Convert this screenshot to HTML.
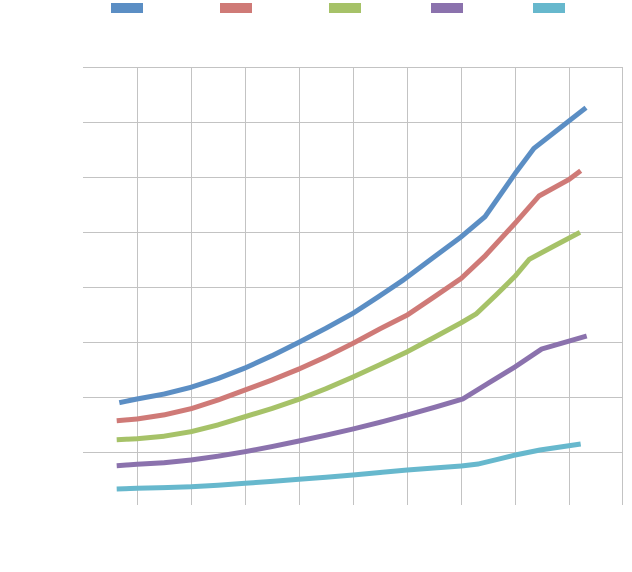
<!DOCTYPE html>
<html>
<head>
<meta charset="utf-8">
<style>
  html, body { margin:0; padding:0; background:#ffffff; }
  body { width:632px; height:572px; overflow:hidden; font-family:"Liberation Sans", sans-serif; }
  svg { display:block; }
</style>
</head>
<body>
<svg width="632" height="572" viewBox="0 0 632 572" xmlns="http://www.w3.org/2000/svg">
  <rect x="0" y="0" width="632" height="572" fill="#ffffff"/>
  <!-- legend -->
  <rect x="111" y="3" width="32" height="10" fill="#5b8ec4"/>
  <rect x="220" y="3" width="32" height="10" fill="#cf7a77"/>
  <rect x="329" y="3" width="32" height="10" fill="#a6c268"/>
  <rect x="431" y="3" width="32" height="10" fill="#8b72ad"/>
  <rect x="533" y="3" width="32" height="10" fill="#67b8cd"/>

  <!-- gridlines -->
  <g stroke="#c3c3c3" stroke-width="1" fill="none">
    <line x1="83" y1="67.5" x2="622" y2="67.5"/>
    <line x1="83" y1="122.5" x2="622" y2="122.5"/>
    <line x1="83" y1="177.5" x2="622" y2="177.5"/>
    <line x1="83" y1="232.5" x2="622" y2="232.5"/>
    <line x1="83" y1="287.5" x2="622" y2="287.5"/>
    <line x1="83" y1="342.5" x2="622" y2="342.5"/>
    <line x1="83" y1="397.5" x2="622" y2="397.5"/>
    <line x1="83" y1="452.5" x2="622" y2="452.5"/>

    <line x1="137.5" y1="67" x2="137.5" y2="505"/>
    <line x1="191.5" y1="67" x2="191.5" y2="505"/>
    <line x1="245.5" y1="67" x2="245.5" y2="505"/>
    <line x1="299.5" y1="67" x2="299.5" y2="505"/>
    <line x1="353.5" y1="67" x2="353.5" y2="505"/>
    <line x1="407.5" y1="67" x2="407.5" y2="505"/>
    <line x1="461.5" y1="67" x2="461.5" y2="505"/>
    <line x1="515.5" y1="67" x2="515.5" y2="505"/>
    <line x1="569.5" y1="67" x2="569.5" y2="505"/>
    <line x1="622.5" y1="67" x2="622.5" y2="505"/>
  </g>

  <!-- series -->
  <g fill="none" stroke-width="5" stroke-linejoin="round" stroke-linecap="butt">
    <polyline stroke="#67b8cd" points="116.7,489 137,488.3 164,487.6 191,486.7 218,485.2 245,483.3 272,481.4 299,479.3 326,477.2 353,475 380,472.5 407.3,470 434,468 461.3,466 478.3,464 497,459.5 515.3,455 540,450 580.7,444"/>
    <polyline stroke="#8b72ad" points="116.7,465.7 137,464.3 164,462.7 191,460 218,456.2 245,451.7 272,446.6 299,441 326,435.2 353,429 380,422.3 407.3,415 435,407.2 462.7,399 489,382.8 515.3,366.7 541.7,349 586.7,336"/>
    <polyline stroke="#a6c268" points="116.7,439.7 137,438.7 164,436.2 191,431.7 218,424.9 245,416.7 272,408.5 299,399.3 326,388.7 353,377 380,364.6 407.3,351.7 434,337.5 461.3,322.7 476,314 496,295 515.3,276 529.3,259.3 555,245.5 580,232.3"/>
    <polyline stroke="#cf7a77" points="116.7,420.7 137,419 164,414.9 191,408.7 218,400 245,390 272,380 299,369 326,356.8 353,343.3 380,328.8 407.3,315 434,297 461.3,278.3 485,256 515.3,223 539,196 569.3,179.3 580.7,170.7"/>
    <polyline stroke="#5b8ec4" points="119.3,402.7 137,399 164,394.1 191,387.3 218,378.5 245,368 272,355.7 299,342.3 326,328.2 353,313.3 378,297 403.3,280 432,258.5 461.3,236.7 485,216.7 515.3,173.3 534,148.3 569.3,120.7 586,107.7"/>
  </g>
</svg>
</body>
</html>
